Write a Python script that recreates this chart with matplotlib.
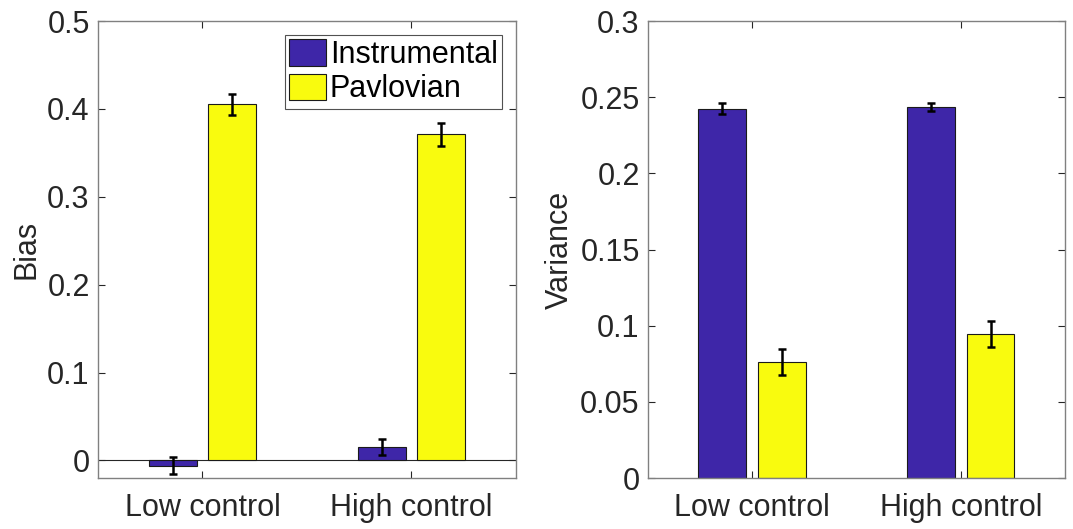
import numpy as np
import matplotlib
matplotlib.use('Agg')
import matplotlib.pyplot as plt

plt.rcParams['font.family'] = ['Liberation Sans', 'DejaVu Sans']

groups = ['Low control', 'High control']
series = ['Instrumental', 'Pavlovian']
colors = ['#3e26a8', '#f9fb0e']

bias_mean = [[-0.006, 0.015], [0.405, 0.371]]
bias_err = [[0.010, 0.009], [0.012, 0.013]]
var_mean = [[0.2425, 0.2435], [0.0762, 0.0945]]
var_err = [[0.0037, 0.0028], [0.0083, 0.0087]]

dark = '#262626'
fs = 22
fig = plt.figure(figsize=(10.73, 5.29), dpi=100)
ax1 = fig.add_axes([0.0913, 0.0964, 0.3896, 0.8639])
ax2 = fig.add_axes([0.6039, 0.0964, 0.3886, 0.8639])

x = np.arange(1, len(groups) + 1)
offsets = [-0.143, 0.143]
width = 0.23


def draw(ax, means, errs):
    for i in range(len(series)):
        ax.bar(x + offsets[i], means[i], width, color=colors[i],
               edgecolor='#1a1a1a', linewidth=0.8, label=series[i], zorder=2)
        ax.errorbar(x + offsets[i], means[i], yerr=errs[i], fmt='none',
                    ecolor='black', elinewidth=1.8, capsize=3, capthick=1.8, zorder=3)
    ax.set_xlim(0.5, 2.5)
    ax.set_xticks(x)
    ax.set_xticklabels(groups)
    ax.tick_params(direction='in', length=5, width=0.8, colors=dark,
                   labelsize=fs, top=True, right=True, pad=6)
    ax.tick_params(axis='x', pad=11)
    for s in ax.spines.values():
        s.set_color('#808080')
        s.set_linewidth(1.0)


draw(ax1, bias_mean, bias_err)
ax1.axhline(0, color=dark, linewidth=0.8, zorder=1)
ax1.set_ylim(-0.02, 0.5)
ax1.set_yticks([0, 0.1, 0.2, 0.3, 0.4, 0.5])
ax1.set_yticklabels(['0', '0.1', '0.2', '0.3', '0.4', '0.5'])
ax1.set_ylabel('Bias', fontsize=fs, color=dark, labelpad=4)
leg = ax1.legend(loc='upper right', fontsize=fs, frameon=True, fancybox=False,
                 edgecolor=dark, handlelength=1.2, handleheight=0.95,
                 handletextpad=0.12, borderpad=0.15, labelspacing=0.12,
                 borderaxespad=0.45)
leg.get_frame().set_linewidth(0.8)

draw(ax2, var_mean, var_err)
ax2.set_ylim(0, 0.3)
ax2.set_yticks([0, 0.05, 0.1, 0.15, 0.2, 0.25, 0.3])
ax2.set_yticklabels(['0', '0.05', '0.1', '0.15', '0.2', '0.25', '0.3'])
ax2.set_ylabel('Variance', fontsize=fs, color=dark, labelpad=4)

fig.savefig('out.png', dpi=100)
